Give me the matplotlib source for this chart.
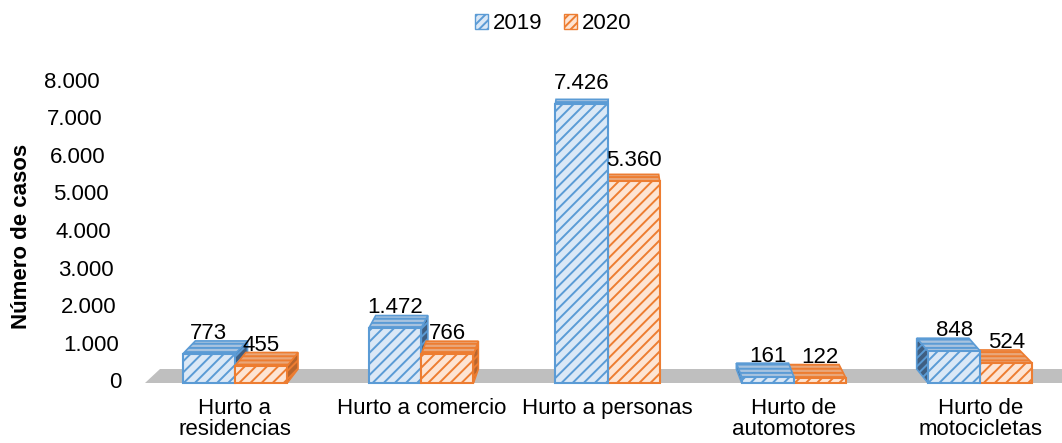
import matplotlib
matplotlib.use("Agg")
import matplotlib.pyplot as plt
from matplotlib.patches import Polygon, Patch
from matplotlib.transforms import IdentityTransform

categorias = ["Hurto a\nresidencias", "Hurto a comercio", "Hurto a personas",
              "Hurto de\nautomotores", "Hurto de\nmotocicletas"]
casos_2019 = [773, 1472, 7426, 161, 848]
casos_2020 = [455, 766, 5360, 122, 524]
anios = ["2019", "2020"]
ticks_y = [0, 1000, 2000, 3000, 4000, 5000, 6000, 7000, 8000]

# colours: front fill, hatch/edge, top fill, side fill
estilos = [
  dict(front="#dbe8f6", edge="#5b9bd5", top="#a8c3df", side="#3f5f82"),
  dict(front="#fde4d3", edge="#ed7d31", top="#e9a77a", side="#b9652c"),
]

def fmt(v):
  return f"{v:,}".replace(",", ".")

plt.rcParams['font.family'] = ['Liberation Sans', 'DejaVu Sans']
plt.rcParams['hatch.linewidth'] = 1.4

W, H = 1062, 443
fig = plt.figure(figsize=(W / 100, H / 100), dpi=100)
ax = fig.add_axes([145 / W, (H - 383) / H, (W - 145) / W, (383 - 82) / H])
# category centre at pixel 235 + 186.3 * i
ax.set_xlim((145 - 235) / 186.3, (W - 235) / 186.3)
ax.set_ylim(0, 8000)
ax.axis('off')

def depth(xpix, v):
  # fake perspective of the excel 3d chart
  dx = -(xpix - 600) * 0.032
  dy = 14 - 10.5 * v / 8000
  return dx, dy

ident = IdentityTransform()

# floor
(fx0, fy0) = ax.transData.transform((ax.get_xlim()[0], 0))
fdx, fdy = depth(fx0, 0)
floor = Polygon([(fx0, fy0), (W, fy0), (W, fy0 + fdy), (fx0 + fdx, fy0 + fdy)],
                closed=True, facecolor="#bfbfbf", edgecolor="none",
                transform=ident, zorder=1, clip_on=False)
ax.add_artist(floor)

width = 0.28

def barra(x, v, est, z):
  ax.bar([x], [v], width=width, facecolor=est["front"], edgecolor=est["edge"],
         hatch="///", linewidth=1.5, zorder=z + 0.5, clip_on=False)
  (x0, y0) = ax.transData.transform((x - width / 2, 0))
  (x1, yv) = ax.transData.transform((x + width / 2, v))
  dx, dyt = depth((x0 + x1) / 2, v)
  _, dyb = depth((x0 + x1) / 2, 0)
  e = x1 if dx > 0 else x0
  side = Polygon([(e, y0), (e, yv), (e + dx, yv + dyt), (e + dx, y0 + dyb)],
                 closed=True, facecolor=est["side"], edgecolor=est["edge"],
                 hatch="////", linewidth=1.2, transform=ident, zorder=z, clip_on=False)
  top = Polygon([(x0, yv), (x1, yv), (x1 + dx, yv + dyt), (x0 + dx, yv + dyt)],
                closed=True, facecolor=est["top"], edgecolor=est["edge"],
                hatch="----", linewidth=1.2, transform=ident, zorder=z, clip_on=False)
  ax.add_artist(side)
  ax.add_artist(top)
  ax.annotate(fmt(v), xy=(x, v), xytext=(0, 10.8), textcoords="offset points",
              ha="center", va="baseline", fontsize=16, zorder=40)

for i in range(len(categorias)):
  vals = [casos_2019[i], casos_2020[i]]
  xs = [i - width / 2, i + width / 2]
  cx = ax.transData.transform((i, 0))[0]
  orden = [0, 1] if cx < 600 else [1, 0]
  for k, j in enumerate(orden):
    barra(xs[j], vals[j], estilos[j], 3 + 2 * (2 * i + k))
  ax.annotate(categorias[i], xy=(i, 0), xytext=(0, -10.8), textcoords="offset points",
              ha="center", va="top", fontsize=16, linespacing=1.0)

for t in ticks_y:
  ax.annotate(fmt(t), xy=(0, t), xycoords=("axes fraction", "data"),
              xytext=(-(23 + 22 * t / 8000) * 0.72, 0), textcoords="offset points",
              ha="right", va="center", fontsize=16, annotation_clip=False)

fig.text(22 / W, 1 - 236 / H, "Número de casos", rotation=90, fontweight="bold",
         fontsize=16, ha="center", va="center")

handles = [Patch(facecolor=e["front"], edgecolor=e["edge"], hatch="////") for e in estilos]
fig.legend(handles, anios, loc="upper center", bbox_to_anchor=(553 / W, 1.0), ncol=2,
           frameon=False, fontsize=16, handlelength=0.6, handleheight=0.7,
           handletextpad=0.2, columnspacing=1.0, borderaxespad=0.2)

fig.savefig("out.png", dpi=100)
